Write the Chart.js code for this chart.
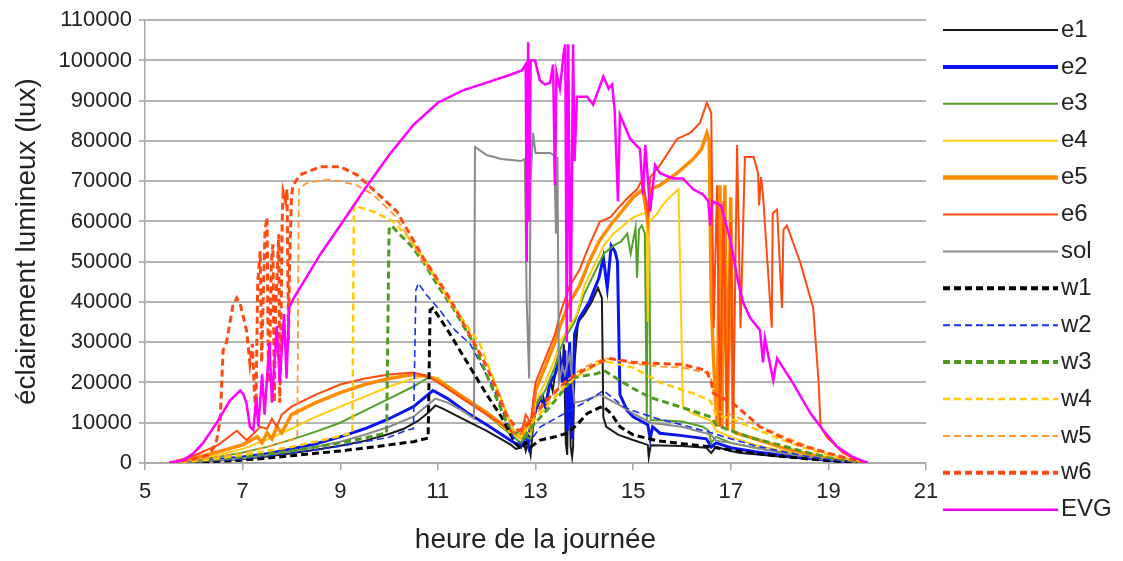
<!DOCTYPE html>
<html><head><meta charset="utf-8">
<script src="https://cdn.jsdelivr.net/npm/chart.js@4/dist/chart.umd.min.js"></script>
<style>html,body{margin:0;padding:0;background:#fff;}</style>
</head><body>
<canvas id="c" width="1123" height="561"></canvas>
<script>
// ---------- DATA (hour of day, illuminance in lux) ----------
const xTicks = [5, 7, 9, 11, 13, 15, 17, 19, 21];
const yTicks = [0,10000,20000,30000,40000,50000,60000,70000,80000,90000,100000,110000];
const seriesNames = ['e1','e2','e3','e4','e5','e6','sol','w1','w2','w3','w4','w5','w6','EVG'];

const e1 = [[5.5,0],[5.8,100],[6,300],[6.5,600],[7,1000],[7.5,1600],[8,2400],[8.5,3300],[9,4300],[9.5,5500],[10,7200],[10.3,8500],[10.6,10500],[10.8,12500],[10.95,14300],[11.1,13500],[11.5,11000],[12,8000],[12.5,4500],[12.6,3500],[12.7,3800],[12.75,6000],[12.8,3000],[12.85,5000],[12.9,2000],[12.95,9000],[13.03,15000],[13.15,17000],[13.2,14000],[13.3,20500],[13.35,18000],[13.44,25000],[13.5,27000],[13.55,22000],[13.58,29500],[13.62,5000],[13.65,2000],[13.68,28000],[13.72,4000],[13.75,1500],[13.77,4000],[13.8,25000],[13.87,35000],[14.0,37000],[14.15,40000],[14.28,43500],[14.36,41000],[14.39,11400],[14.45,9000],[14.7,7000],[15.0,5700],[15.3,4500],[15.32,1500],[15.36,4400],[16,4200],[16.5,3800],[16.6,2500],[16.7,4000],[17,3000],[17.2,2500],[17.5,2200],[18,1600],[18.5,1100],[19,700],[19.5,300],[19.8,0]];

const e2 = [[5.5,0],[6,500],[6.5,900],[7,1500],[7.5,2300],[8,3500],[8.5,4800],[9,6500],[9.5,8500],[10,11000],[10.5,14000],[10.9,18000],[11.2,16000],[11.6,12500],[12,9500],[12.5,5500],[12.7,4000],[12.8,7000],[12.85,4500],[12.9,10000],[13.0,13000],[13.1,16000],[13.2,14000],[13.3,20000],[13.4,22000],[13.5,26000],[13.55,20000],[13.6,28000],[13.65,8000],[13.7,30000],[13.75,6000],[13.8,32000],[13.9,36000],[14.1,40000],[14.3,46000],[14.39,51000],[14.47,43500],[14.55,54000],[14.63,52500],[14.68,50000],[14.73,17000],[14.88,13000],[15.0,11500],[15.3,9500],[15.35,6000],[15.4,9000],[15.55,7400],[16.0,6800],[16.5,6000],[16.6,4000],[16.7,5000],[17.0,3800],[17.5,2800],[18,2000],[18.5,1300],[19,700],[19.5,300],[19.8,0]];

const e3 = [[5.5,0],[6,700],[6.5,1500],[7,2600],[7.5,4000],[8,5800],[8.5,7800],[9,10000],[9.5,13000],[10,16000],[10.5,19000],[10.84,21500],[11,21000],[11.5,16500],[12,12000],[12.5,7000],[12.7,5000],[12.8,6500],[12.9,6000],[13.0,14000],[13.2,18000],[13.4,24000],[13.5,28000],[13.6,31000],[13.7,33000],[13.8,35000],[14,42000],[14.2,47000],[14.4,52000],[14.6,54000],[14.75,55000],[14.88,57000],[14.95,52000],[15.05,58500],[15.08,46000],[15.12,58000],[15.18,59000],[15.24,57000],[15.28,10600],[15.3,48500],[15.33,55000],[15.36,10600],[15.55,10600],[16,10300],[16.43,9000],[16.55,8000],[16.6,5000],[16.7,6500],[17,5000],[17.5,3800],[18,2700],[18.5,1700],[19,900],[19.5,300],[19.8,0]];

const e4 = [[5.5,0],[6,900],[6.5,2000],[7,3500],[7.5,5800],[8,8500],[8.5,11500],[9,14000],[9.5,16500],[10,19000],[10.5,21000],[10.75,21700],[11,21000],[11.5,16500],[12,12000],[12.5,7500],[12.7,6000],[12.8,8000],[12.9,7000],[13.0,15000],[13.2,20000],[13.4,26000],[13.5,30000],[13.7,34000],[13.85,37000],[14,44000],[14.2,49000],[14.4,54000],[14.6,57000],[14.8,59000],[15.0,61000],[15.2,62000],[15.28,62000],[15.3,35000],[15.33,60000],[15.5,62000],[15.6,64000],[15.75,66000],[15.93,68000],[16.02,14000],[16.2,12400],[16.58,10600],[16.7,8000],[17,6500],[17.5,4500],[18,3200],[18.5,2000],[19,1000],[19.5,400],[19.8,0]];

const e5 = [[5.5,0],[6,1200],[6.5,2800],[7,4500],[7.3,6500],[7.4,5000],[7.5,7500],[7.6,6000],[7.7,9000],[7.8,7500],[8,12000],[8.5,15000],[9,17500],[9.5,19500],[10,21000],[10.5,22000],[10.8,21500],[11,20500],[11.5,16500],[12,12500],[12.5,8000],[12.7,6500],[12.8,10000],[12.9,8500],[13.0,18000],[13.2,24000],[13.4,30000],[13.5,34000],[13.7,40000],[13.9,44000],[14.1,50000],[14.3,55000],[14.53,59000],[14.8,63000],[15.0,66000],[15.2,68000],[15.3,60000],[15.35,68000],[15.55,69000],[15.9,72000],[16.23,75500],[16.4,78000],[16.51,82000],[16.56,80000],[16.6,40000],[16.65,25000],[16.72,9000],[16.78,69000],[16.82,9000],[16.88,69000],[16.93,8000],[17.0,66000],[17.05,8000],[17.1,7500],[17.5,6000],[18,4000],[18.5,2500],[19,1200],[19.5,400],[19.8,0]];

const e6 = [[5.5,0],[6,1800],[6.5,4500],[6.88,8000],[7.08,5700],[7.2,7000],[7.36,9000],[7.5,8500],[7.6,11000],[7.7,9000],[7.8,12000],[8,14000],[8.5,17000],[9,19500],[9.5,21000],[10,22000],[10.5,22500],[10.8,21500],[11,20000],[11.5,16000],[12,12000],[12.5,8000],[12.7,7000],[12.8,12000],[12.9,10000],[13.0,20000],[13.2,26000],[13.4,32000],[13.5,37000],[13.7,44000],[13.9,48000],[14.1,54000],[14.32,60000],[14.53,61000],[14.67,63000],[14.9,66000],[15.08,68000],[15.2,70700],[15.3,62000],[15.35,71000],[15.55,74000],[15.9,80500],[16.17,82000],[16.37,84500],[16.51,89500],[16.6,87000],[16.65,33500],[16.72,69000],[16.78,9000],[16.85,65000],[16.92,9000],[17.0,60000],[17.05,10000],[17.13,79000],[17.2,33500],[17.29,76000],[17.47,76000],[17.56,72000],[17.58,64000],[17.62,71000],[17.66,66700],[17.84,33600],[17.86,62000],[17.95,63000],[18.05,38500],[18.08,58000],[18.15,59000],[18.42,50000],[18.69,38500],[18.8,20000],[18.84,9000],[18.97,6400],[19.3,2500],[19.6,700],[19.8,0]];

const sol = [[5.5,0],[6,350],[6.5,700],[7,1200],[7.5,1900],[8,2900],[8.5,4000],[9,5300],[9.5,7000],[10,9000],[10.5,11500],[10.8,14500],[10.95,16000],[11.2,15000],[11.5,13000],[11.74,11000],[11.76,78500],[12.0,76500],[12.3,75500],[12.7,75000],[12.78,75500],[12.82,40000],[12.87,21000],[12.9,70000],[12.95,82000],[13.0,77000],[13.3,77000],[13.38,76500],[13.42,57000],[13.45,76000],[13.48,20000],[13.55,24000],[13.6,22000],[13.7,27000],[13.8,15000],[14.0,15500],[14.32,17000],[14.73,14300],[15.0,12300],[15.35,10000],[16.0,9000],[16.6,7000],[16.7,5500],[17,5000],[17.5,3800],[18,2600],[18.5,1600],[19,800],[19.5,300],[19.8,0]];

const w1 = [[5.5,0],[6,200],[6.5,450],[7,700],[7.5,1200],[8,1800],[8.5,2400],[9,3000],[9.5,3700],[10,4500],[10.5,5300],[10.8,6200],[10.84,38000],[10.9,38500],[11.2,33000],[11.6,25000],[12.0,17000],[12.3,11500],[12.58,5000],[12.7,3500],[12.8,5000],[12.9,4000],[13.1,5700],[13.4,6500],[13.65,7400],[13.85,9500],[14.06,12300],[14.32,13800],[14.39,14000],[14.55,12300],[14.73,9000],[15.0,7000],[15.5,5500],[16.0,4800],[16.6,4000],[17,3200],[17.5,2400],[18,1700],[18.5,1100],[19,600],[19.5,200],[19.8,0]];

const w2 = [[5.5,0],[6,300],[6.5,600],[7,1000],[7.5,1700],[8,2500],[8.5,3300],[9,4200],[9.5,5300],[10,6400],[10.37,8200],[10.5,8500],[10.55,43000],[10.6,44700],[10.75,42000],[11.05,37800],[11.35,33000],[11.66,29600],[12.13,18800],[12.54,6400],[12.7,4500],[12.8,6000],[12.9,5500],[13.1,9000],[13.4,11000],[13.7,13000],[14.0,15000],[14.18,16300],[14.39,18000],[14.6,16000],[14.8,14000],[15.0,13000],[15.5,11000],[16.0,9500],[16.6,7500],[17,6000],[17.5,4300],[18,3000],[18.5,1800],[19,900],[19.5,300],[19.8,0]];

const w3 = [[5.5,0],[6,400],[6.5,900],[7,1500],[7.5,2200],[8,3000],[8.5,4000],[9,5000],[9.5,6200],[9.95,7500],[10.0,58000],[10.05,59000],[10.2,57000],[10.45,54000],[10.7,50000],[11.0,44000],[11.31,38500],[11.72,30000],[12.1,19000],[12.41,10000],[12.62,7400],[12.75,6000],[12.85,8000],[13.0,10000],[13.3,14000],[13.5,17000],[13.77,21200],[14.26,22200],[14.4,23000],[14.73,20500],[15.0,18500],[15.35,16300],[16.0,13800],[16.6,11400],[16.7,9500],[17,8000],[17.5,6000],[18,4500],[18.5,2800],[19,1400],[19.5,500],[19.8,0]];

const w4 = [[5.5,0],[6,500],[6.5,1200],[7,2000],[7.5,3000],[8,4000],[8.5,5300],[9,6700],[9.25,7500],[9.28,64000],[9.4,63500],[9.67,62500],[10.08,60000],[10.4,56000],[10.7,51000],[11.0,45000],[11.25,40000],[11.86,29600],[12.2,19000],[12.54,8200],[12.7,6500],[12.85,9000],[13.0,11000],[13.3,15000],[13.6,19000],[13.9,22000],[14.2,24000],[14.39,25400],[14.53,25000],[15.0,23700],[15.55,20000],[16.23,17300],[16.58,15500],[16.7,12000],[17,11000],[17.5,8500],[18,6000],[18.5,3800],[19,2000],[19.5,700],[19.8,0]];

const w5 = [[5.5,0],[6,700],[6.5,1500],[7,2500],[7.5,4000],[7.9,5500],[8.12,6000],[8.15,68000],[8.3,69500],[8.73,70400],[9.0,70000],[9.34,69000],[9.67,66700],[10.1,61700],[10.4,56000],[10.7,50000],[11.0,45000],[11.25,40000],[11.8,29000],[12.2,19000],[12.5,9500],[12.7,7500],[12.85,10000],[13.0,12000],[13.3,16000],[13.6,20000],[13.9,23000],[14.2,25000],[14.45,26000],[15.0,24700],[15.5,24000],[16.0,23700],[16.58,22200],[16.7,13000],[17,12000],[17.5,9500],[18,7000],[18.5,4500],[19,2500],[19.5,800],[19.8,0]];

const w6 = [[5.5,0],[6,1000],[6.3,2000],[6.45,4500],[6.54,10600],[6.6,28000],[6.67,30000],[6.8,39000],[6.88,41000],[6.95,39500],[7.08,33000],[7.15,24700],[7.2,29600],[7.24,18000],[7.27,12000],[7.31,45000],[7.36,52600],[7.39,25000],[7.42,40000],[7.46,58000],[7.5,61000],[7.53,20000],[7.56,30000],[7.59,50000],[7.62,54300],[7.65,15000],[7.68,40000],[7.71,48000],[7.74,56800],[7.76,15000],[7.78,28000],[7.81,60000],[7.83,67400],[7.88,65000],[7.91,68000],[7.94,30000],[7.96,48400],[8.0,66000],[8.03,69000],[8.18,71600],[8.59,73600],[9.0,73600],[9.34,71600],[9.67,68000],[10.16,62500],[10.7,51000],[11.19,42000],[11.6,33000],[12.0,24000],[12.4,12000],[12.65,8000],[12.8,9000],[12.9,11000],[13.0,12500],[13.3,16500],[13.6,20000],[13.9,22500],[14.32,25000],[14.5,26000],[15.0,25000],[15.5,24700],[16.0,24500],[16.5,23000],[16.6,20000],[16.65,17300],[17.05,14800],[17.6,9000],[18.28,5000],[18.97,2500],[19.5,800],[19.8,0]];

const EVG = [[5.5,0],[5.8,800],[6.0,2500],[6.19,5000],[6.47,10000],[6.74,15500],[6.95,18000],[7.02,17000],[7.08,14800],[7.15,9000],[7.22,8200],[7.28,16300],[7.32,9000],[7.4,22000],[7.45,12000],[7.55,30000],[7.6,15000],[7.7,34000],[7.76,20000],[7.85,37000],[7.9,21000],[7.95,38500],[8.05,41000],[8.3,46000],[8.6,52000],[9.0,59000],[9.5,68000],[10.0,76500],[10.5,84000],[11.0,89500],[11.5,92500],[12.0,94500],[12.5,96500],[12.72,97500],[12.8,99000],[12.82,50000],[12.85,104500],[12.87,60000],[12.9,100000],[12.99,100000],[13.09,95000],[13.2,94000],[13.3,94500],[13.36,99000],[13.4,69000],[13.43,97000],[13.5,93000],[13.58,102000],[13.61,104000],[13.64,30000],[13.67,104000],[13.72,35000],[13.77,104000],[13.8,75000],[13.85,91000],[14.06,91000],[14.18,89000],[14.39,96000],[14.5,93000],[14.57,94000],[14.62,88000],[14.69,65000],[14.73,86500],[14.94,80500],[15.14,78000],[15.2,66700],[15.25,79000],[15.35,62500],[15.45,74000],[15.55,72000],[15.82,70700],[16.02,70700],[16.23,68000],[16.43,66700],[16.54,65000],[16.58,59000],[16.62,65000],[16.8,64000],[17.0,55000],[17.15,45000],[17.25,40000],[17.4,36000],[17.6,33000],[17.66,25000],[17.7,31000],[17.87,20500],[17.95,26000],[18.28,19700],[18.63,12400],[18.89,8200],[19.18,4000],[19.5,1500],[19.8,0]];

const seriesData = [e1,e2,e3,e4,e5,e6,sol,w1,w2,w3,w4,w5,w6,EVG];

// ---------- STYLES ----------
const seriesStyle = {
  e1:{c:'#1a1a1a',w:2,d:[]},
  e2:{c:'#0a14f0',w:3,d:[]},
  e3:{c:'#52a02a',w:2,d:[]},
  e4:{c:'#ffcc11',w:2,d:[]},
  e5:{c:'#ff8c00',w:3.5,d:[]},
  e6:{c:'#ff4a10',w:2,d:[]},
  sol:{c:'#8a8a8a',w:2,d:[]},
  w1:{c:'#000000',w:3,d:[7,4]},
  w2:{c:'#1a30f0',w:1.6,d:[7,4]},
  w3:{c:'#4f9a20',w:3,d:[7,4]},
  w4:{c:'#ffcc00',w:2.5,d:[7,4]},
  w5:{c:'#ff9a30',w:1.8,d:[7,4]},
  w6:{c:'#ff4a10',w:3,d:[7,4]},
  EVG:{c:'#ff00ff',w:2.5,d:[]}
};

Chart.defaults.font.family = '"Liberation Sans", Arial, sans-serif';
Chart.defaults.color = '#222';

const N = seriesNames.length;
const datasets = seriesNames.map((name,i)=>{
  const s = seriesStyle[name];
  return {
    label:name,
    data: seriesData[i].map(p=>({x:p[0], y:p[1]})),
    borderColor:s.c, backgroundColor:s.c, borderWidth:s.w, borderDash:s.d,
    pointRadius:0, fill:false, tension:0, order:N-1-i
  };
});

const sideLegend = {
  id:'sideLegend',
  afterDraw(chart){
    const ctx = chart.ctx;
    ctx.save();
    seriesNames.forEach((name,i)=>{
      const s = seriesStyle[name];
      const y = 30 + i*36.9;
      ctx.beginPath();
      ctx.setLineDash(s.d);
      ctx.lineWidth = Math.max(s.w, 2) + (s.w>=3?1:0);
      ctx.strokeStyle = s.c;
      ctx.moveTo(943, y); ctx.lineTo(1058, y);
      ctx.stroke();
      ctx.setLineDash([]);
      ctx.fillStyle = '#222';
      ctx.font = '24px "Liberation Sans", Arial, sans-serif';
      ctx.textAlign = 'left';
      ctx.textBaseline = 'middle';
      ctx.fillText(name, 1061, y);
    });
    ctx.restore();
  }
};

new Chart(document.getElementById('c'), {
  type:'line',
  data:{datasets},
  options:{
    responsive:false, animation:false, devicePixelRatio:1,
    layout:{padding:{left:0,right:197,top:18,bottom:0}},
    plugins:{legend:{display:false}, tooltip:{enabled:false}},
    scales:{
      x:{
        type:'linear', min:xTicks[0], max:xTicks[xTicks.length-1],
        afterBuildTicks(s){ s.ticks = xTicks.map(v=>({value:v})); },
        ticks:{font:{size:22}, padding:9, maxRotation:0, autoSkip:false, callback:v=>String(v)},
        grid:{drawOnChartArea:false, drawTicks:true, tickLength:7, color:'#a8a8a8', lineWidth:1.5},
        border:{color:'#a8a8a8', width:1.5},
        title:{display:true, text:'heure de la journée', font:{size:28}, padding:{top:0,bottom:4}},
        afterFit(s){ s.height = 98; }
      },
      y:{
        min:yTicks[0], max:yTicks[yTicks.length-1],
        afterBuildTicks(s){ s.ticks = yTicks.map(v=>({value:v})); },
        ticks:{font:{size:22}, padding:7, autoSkip:false, callback:v=>String(v)},
        grid:{color:'#b4b4b4', lineWidth:2, tickLength:6},
        border:{color:'#a8a8a8', width:1.5},
        title:{display:true, text:'éclairement lumineux (lux)', font:{size:28}, padding:{top:10,bottom:0}},
        afterFit(s){ s.width = 145; }
      }
    }
  },
  plugins:[sideLegend]
});
</script>
</body></html>
